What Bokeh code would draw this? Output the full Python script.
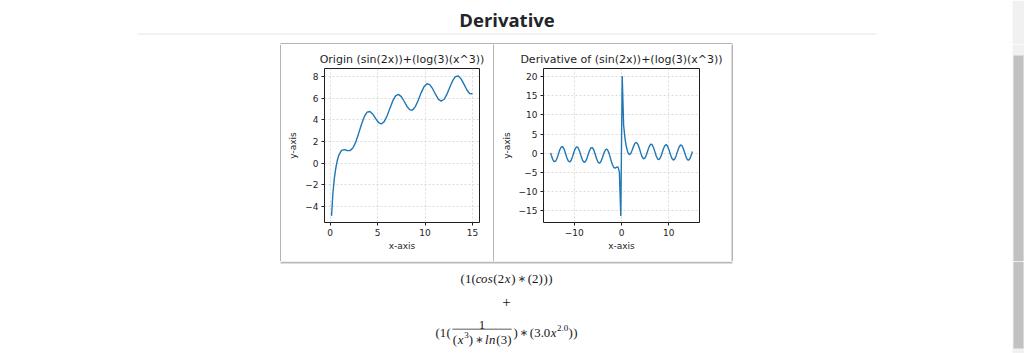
from bokeh.plotting import figure
from bokeh.layouts import row, column
from bokeh.models import Range1d, FixedTicker
from bokeh.core.properties import value
from bokeh.embed import file_html
from bokeh.resources import INLINE

# ---------------- data ----------------
page_title = "Derivative"
left_title = "Origin (sin(2x))+(log(3)(x^3))"
right_title = "Derivative of (sin(2x))+(log(3)(x^3))"
x_label = "x-axis"
y_label = "y-axis"

orig_x = [0.15, 0.3, 0.45, 0.6, 0.75, 0.9, 1.2, 1.5, 1.8, 2.1, 2.4, 2.7, 3.0,
          3.3, 3.6, 3.9, 4.2, 4.5, 4.8, 5.1, 5.4, 5.7, 6.0, 6.3, 6.6, 6.9, 7.2,
          7.5, 7.8, 8.1, 8.4, 8.7, 9.0, 9.3, 9.6, 9.9, 10.2, 10.5, 10.8, 11.1,
          11.4, 11.7, 12.0, 12.3, 12.6, 12.9, 13.2, 13.5, 13.8, 14.1, 14.4,
          14.7, 15.0]
orig_y = [-4.89, -2.72, -1.40, -0.46, 0.21, 0.69, 1.17, 1.25, 1.16, 1.15, 1.39,
          1.94, 2.72, 3.57, 4.29, 4.71, 4.77, 4.52, 4.11, 3.75, 3.62, 3.83,
          4.36, 5.06, 5.75, 6.22, 6.36, 6.15, 5.72, 5.24, 4.92, 4.91, 5.25,
          5.84, 6.52, 7.07, 7.34, 7.26, 6.88, 6.37, 5.92, 5.73, 5.88, 6.35,
          6.99, 7.60, 8.00, 8.06, 7.79, 7.30, 6.78, 6.44, 6.41]

deriv_x = [-15.0, -14.85, -14.55, -14.25, -13.95, -13.65, -13.35, -13.05, -12.75,
           -12.45, -12.15, -11.85, -11.55, -11.25, -10.95, -10.65, -10.35, -10.05,
           -9.75, -9.45, -9.15, -8.85, -8.55, -8.25, -7.95, -7.65, -7.35, -7.05,
           -6.75, -6.45, -6.15, -5.85, -5.55, -5.25, -4.95, -4.65, -4.35, -4.05,
           -3.75, -3.45, -3.15, -2.85, -2.55, -2.25, -1.95, -1.65, -1.35, -1.05,
           -0.75, -0.45, -0.15,
           0.15, 0.45, 0.75, 1.05, 1.35, 1.65, 1.95, 2.25, 2.55, 2.85, 3.15, 3.45,
           3.75, 4.05, 4.35, 4.65, 4.95, 5.25, 5.55, 5.85, 6.15, 6.45, 6.75, 7.05,
           7.35, 7.65, 7.95, 8.25, 8.55, 8.85, 9.15, 9.45, 9.75, 10.05, 10.35,
           10.65, 10.95, 11.25, 11.55, 11.85, 12.15, 12.45, 12.75, 13.05, 13.35,
           13.65, 13.95, 14.25, 14.55, 14.85, 15.0]
deriv_y = [0.13, -0.47, -1.54, -2.14, -2.06, -1.32, -0.20, 0.93, 1.65, 1.73, 1.12,
           0.04, -1.13, -1.99, -2.24, -1.80, -0.82, 0.36, 1.31, 1.71, 1.41, 0.51,
           -0.68, -1.74, -2.31, -2.19, -1.44, -0.31, 0.79, 1.47, 1.49, 0.83, -0.28,
           -1.47, -2.33, -2.57, -2.13, -1.16, -0.04, 0.84, 1.13, 0.71, -0.31, -1.64,
           -2.85, -3.63, -3.83, -3.61, -3.50, -4.83, -16.29,
           20.12, 7.31, 3.78, 1.59, 0.21, -0.32, -0.05, 0.79, 1.83, 2.63, 2.87,
           2.42, 1.42, 0.19, -0.87, -1.40, -1.23, -0.43, 0.70, 1.76, 2.37, 2.31,
           1.59, 0.46, -0.70, -1.48, -1.62, -1.07, -0.04, 1.13, 2.00, 2.29, 1.87,
           0.90, -0.29, -1.28, -1.74, -1.50, -0.66, 0.51, 1.57, 2.17, 2.08, 1.34,
           0.21, -0.92, -1.67, -1.76, -1.17, -0.11, 0.49]

left_xticks = [0, 5, 10, 15]
left_yticks = [-4, -2, 0, 2, 4, 6, 8]
right_xticks = [-10, 0, 10]
right_yticks = [-15, -10, -5, 0, 5, 10, 15, 20]

# ---------------- styles ----------------
MPL_FONT = "DejaVu Sans"
INK = "#1e1e1e"
BORDER_DARK = "#6b6b6b"
BORDER_LIGHT = "#b9b9b9"
TRACK = "#f1f1f1"
THUMB = "#c1c1c1"
BOX_L, BOX_R = 280, 731


def minus_labels(ticks):
    return {t: "\u2212" + str(abs(t)) for t in ticks if t < 0}


def subplot(w, h, xs, ys, xr, yr, xt, yt, title, mb):
    p = figure(width=w, height=h, x_range=Range1d(*xr), y_range=Range1d(*yr),
               output_backend="svg", toolbar_location=None, title=title,
               min_border_left=mb[0], min_border_right=mb[1],
               min_border_top=mb[2], min_border_bottom=mb[3],
               x_axis_label=x_label, y_axis_label=y_label, frame_align=False)
    p.background_fill_color = "white"
    p.border_fill_color = "white"
    p.line(xs, ys, line_width=1.4, line_color="#1f77b4")
    p.xaxis.ticker = FixedTicker(ticks=xt)
    p.yaxis.ticker = FixedTicker(ticks=yt)
    p.xaxis.major_label_overrides = minus_labels(xt)
    p.yaxis.major_label_overrides = minus_labels(yt)
    p.title.align = "center"
    p.title.text_font = MPL_FONT
    p.title.text_font_size = "11px"
    p.title.text_font_style = "normal"
    p.title.text_color = INK
    p.title.standoff = 5
    p.outline_line_color = INK
    p.outline_line_width = 1
    p.outline_line_alpha = 1
    p.grid.grid_line_color = "#cdcdcd"
    p.grid.grid_line_width = 0.7
    p.grid.grid_line_dash = "2 2"
    for ax in p.axis:
        ax.axis_line_color = None
        ax.major_tick_out = 3
        ax.major_tick_in = 0
        ax.minor_tick_out = 0
        ax.minor_tick_in = 0
        ax.major_tick_line_color = INK
        ax.major_label_text_font = MPL_FONT
        ax.major_label_text_font_size = "9px"
        ax.major_label_text_color = INK
        ax.major_label_standoff = 3
        ax.axis_label_text_font = MPL_FONT
        ax.axis_label_text_font_size = "9px"
        ax.axis_label_text_font_style = "normal"
        ax.axis_label_text_color = INK
    p.xaxis.axis_label_standoff = 2
    p.yaxis.axis_label_standoff = 4
    return p


def pad(w, h, fill="white"):
    p = figure(width=w, height=h, x_range=Range1d(0, w), y_range=Range1d(h, 0),
               output_backend="svg", toolbar_location=None, min_border=0,
               x_axis_location=None, y_axis_location=None, frame_align=False)
    p.grid.visible = False
    p.outline_line_color = None
    p.background_fill_color = fill
    p.border_fill_color = fill
    return p


def rect(p, l, r, t, b, color):
    p.quad(left=[l], right=[r], top=[t], bottom=[b], fill_color=color, line_color=None)


# ---------------- row A: page heading ----------------
top = pad(1024, 44)
rect(top, 1012, 1024, 0, 44, TRACK)
rect(top, 137, 876, 33, 34, "#e6e6e6")
rect(top, BOX_L, BOX_R + 1, 43, 44, BORDER_DARK)
top.text(x=[506.5], y=[18.5], text=[page_title], text_font=value("Open Sans"),
         text_font_size=value("18.5px"), text_font_style="bold", text_color="#212529",
         text_align="center", text_baseline="alphabetic")

# ---------------- row B: the two plots ----------------
padL = pad(281, 217)
rect(padL, 280, 281, 0, 217, BORDER_DARK)

left = subplot(212, 217, orig_x, orig_y, (-0.59, 15.74), (-5.5, 8.75),
               left_xticks, left_yticks, left_title, (43, 14, 24, 39))
divider = pad(1, 217, BORDER_DARK)
right = subplot(BOX_R - 494, 217, deriv_x, deriv_y, (-16.5, 16.5), (-18.0, 22.1),
                right_xticks, right_yticks, right_title, (49, BOX_R - 494 - 49 - 156, 24, 39))

RW = 1024 - BOX_R
padR = pad(RW, 217)
rect(padR, 0, 1, 0, 217, BORDER_DARK)
rect(padR, 1012 - BOX_R, RW, 0, 217, TRACK)
rect(padR, 1013 - BOX_R, RW - 1, 11, 217, THUMB)

# ---------------- row C: formula ----------------
bot = pad(1024, 92)
rect(bot, BOX_L, BOX_R + 1, 0, 2, BORDER_LIGHT)
rect(bot, 1012, 1024, 0, 92, TRACK)
rect(bot, 1013, 1023, 0, 87, THUMB)

S = 12.3
FONT_PX = 12.8
WIDTHS = {"(": .389, ")": .389, "0": .5, "1": .5, "2": .5, "3": .5, ".": .278,
          "c": .433, "o": .485, "s": .469, "x": .572, "l": .298, "n": .6,
          "\u2217": .5, "+": .778, " ": .222}
ITALIC = set("cosxln")


def toks(s, sc=1.0, rise=0.0):
    return [(ch, sc, rise) for ch in s]


def tw(tokens):
    return sum(WIDTHS[c] * sc for c, sc, _ in tokens) * S


glyphs = []


def place(tokens, x0, base):
    x = x0
    for ch, sc, rise in tokens:
        w = WIDTHS[ch] * sc * S
        if ch != " ":
            glyphs.append((x + w / 2, base - rise * S, ch, sc, ch in ITALIC))
        x += w
    return x


CX = 506.0
line1 = toks("(1(cos(2x) \u2217 (2)))")
place(line1, CX - tw(line1) / 2, 17.5)

l3a = toks("(1(")
num = toks("1")
den = toks("(x") + toks("3", .707, .33) + toks(") \u2217 ln(3)")
l3b = toks(") \u2217 (3.0x") + toks("2.0", .707, .36) + toks("))")
nd = 0.12 * S
fw = max(tw(num), tw(den))
total = tw(l3a) + nd + fw + nd + tw(l3b)
x0 = CX - total / 2
xf = place(l3a, x0, 71) + nd
place(num, xf + (fw - tw(num)) / 2, 63.5)
place(den, xf + (fw - tw(den)) / 2, 78)
place(l3b, xf + fw + nd, 71)
rect(bot, xf, xf + fw, 67.3, 68.1, "#222222")

groups = {}
stars = []
for gx, gy, ch, sc, it in glyphs:
    if ch == "\u2217":
        stars.append((gx, gy, ch))
        continue
    groups.setdefault((sc, it), []).append((gx, gy, ch))
for (sc, it), items in groups.items():
    bot.text(x=[i[0] for i in items], y=[i[1] for i in items], text=[i[2] for i in items],
             text_font=value("Liberation Serif"), text_font_size=value(f"{FONT_PX * sc:.1f}px"),
             text_font_style="italic" if it else "normal", text_color="#151515",
             text_align="center", text_baseline="alphabetic")
bot.text(x=[i[0] for i in stars], y=[i[1] - 0.5 for i in stars], text=[i[2] for i in stars],
         text_font=value("DejaVu Sans"), text_font_size=value("10px"), text_color="#333333",
         text_align="center", text_baseline="alphabetic")
bot.text(x=[CX], y=[40.5], text=["+"], text_font=value("Liberation Serif"),
         text_font_size=value("15px"), text_color="#151515",
         text_align="center", text_baseline="alphabetic")

layout = column(top, row(padL, left, divider, right, padR), bot)
open("out.html", "w").write(file_html(layout, INLINE))
